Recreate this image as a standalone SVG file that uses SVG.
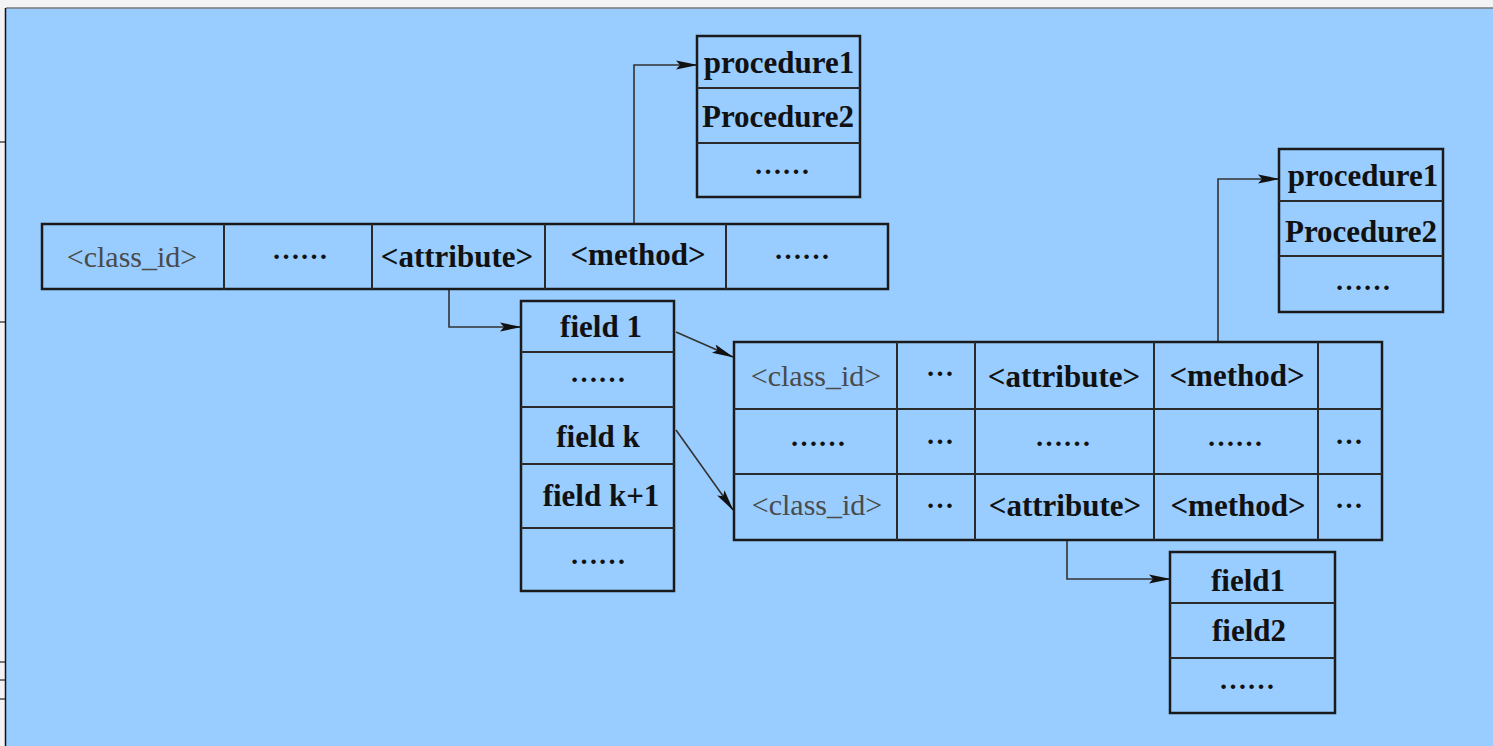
<svg xmlns="http://www.w3.org/2000/svg" width="1493" height="746" viewBox="0 0 1493 746">
<style>
.box{fill:none;stroke:#1a1a1a;stroke-width:2.5}
.div{fill:none;stroke:#2a2a2a;stroke-width:2}
.con{fill:none;stroke:#333;stroke-width:1.6}
.b{font-family:"Liberation Serif","Times New Roman",serif;font-weight:bold;font-size:31px;fill:#111;text-anchor:middle}
.g{font-family:"Liberation Serif","Times New Roman",serif;font-size:30px;fill:#4a4a4a;text-anchor:middle}
.d{font-family:"Liberation Serif","Times New Roman",serif;font-weight:bold;font-size:28px;fill:#111;text-anchor:middle}
</style>
<defs>
<marker id="ah" markerUnits="userSpaceOnUse" markerWidth="22" markerHeight="12" refX="21" refY="6" orient="auto">
<path d="M0,1.5 L22,6 L0,10.5 L4,6 z" fill="#111"/>
</marker>
</defs>
<rect x="0" y="0" width="1493" height="746" fill="#f3f3f5"/>
<rect x="6" y="8" width="1487" height="738" fill="#99ccff"/>
<line x1="6" y1="8" x2="1493" y2="8" stroke="#777" stroke-width="1.5"/>
<line x1="5.5" y1="8" x2="5.5" y2="746" stroke="#111" stroke-width="1.5"/>
<g stroke="#222" stroke-width="1.2">
<line x1="0" y1="142" x2="5" y2="142"/>
<line x1="0" y1="322" x2="5" y2="322"/>
<line x1="0" y1="662" x2="5" y2="662"/>
<line x1="0" y1="680" x2="5" y2="680"/>
<line x1="0" y1="699" x2="5" y2="699"/>
</g>

<g id="connectors">
<path class="con" d="M634,223 V65 H697" marker-end="url(#ah)"/>
<path class="con" d="M449,290 V327 H521" marker-end="url(#ah)"/>
<path class="con" d="M676,332 L733,357" marker-end="url(#ah)"/>
<path class="con" d="M676,430 L733,510" marker-end="url(#ah)"/>
<path class="con" d="M1218,342 V179 H1279" marker-end="url(#ah)"/>
<path class="con" d="M1067,540 V579 H1170" marker-end="url(#ah)"/>
</g>

<g id="top-table">
<rect class="box" x="42" y="224" width="846" height="65"/>
<line class="div" x1="224" y1="224" x2="224" y2="289"/>
<line class="div" x1="372" y1="224" x2="372" y2="289"/>
<line class="div" x1="545" y1="224" x2="545" y2="289"/>
<line class="div" x1="726" y1="224" x2="726" y2="289"/>
<text class="g" x="132" y="267">&lt;class_id&gt;</text>
<text class="d" x="300" y="259">……</text>
<text class="b" x="457" y="267">&lt;attribute&gt;</text>
<text class="b" x="638" y="265">&lt;method&gt;</text>
<text class="d" x="802" y="259">……</text>
</g>

<g id="procedures-1">
<rect class="box" x="697" y="36" width="163" height="161"/>
<line class="div" x1="697" y1="88" x2="860" y2="88"/>
<line class="div" x1="697" y1="143" x2="860" y2="143"/>
<text class="b" x="779" y="73">procedure1</text>
<text class="b" x="778" y="127">Procedure2</text>
<text class="d" x="782" y="174">……</text>
</g>

<g id="fields-column">
<rect class="box" x="521" y="301" width="153" height="290"/>
<line class="div" x1="521" y1="352" x2="674" y2="352"/>
<line class="div" x1="521" y1="407" x2="674" y2="407"/>
<line class="div" x1="521" y1="464" x2="674" y2="464"/>
<line class="div" x1="521" y1="528" x2="674" y2="528"/>
<text class="b" x="601" y="337">field 1</text>
<text class="d" x="598" y="382">……</text>
<text class="b" x="598" y="447">field k</text>
<text class="b" x="601" y="506">field k+1</text>
<text class="d" x="598" y="564">……</text>
</g>

<g id="class-table">
<rect class="box" x="734" y="342" width="648" height="198"/>
<line class="div" x1="734" y1="409" x2="1382" y2="409"/>
<line class="div" x1="734" y1="474" x2="1382" y2="474"/>
<line class="div" x1="897" y1="342" x2="897" y2="540"/>
<line class="div" x1="975" y1="342" x2="975" y2="540"/>
<line class="div" x1="1154" y1="342" x2="1154" y2="540"/>
<line class="div" x1="1318" y1="342" x2="1318" y2="540"/>
<text class="g" x="816" y="386">&lt;class_id&gt;</text>
<text class="d" x="940" y="376">…</text>
<text class="b" x="1064" y="387">&lt;attribute&gt;</text>
<text class="b" x="1237" y="386">&lt;method&gt;</text>
<text class="d" x="818" y="446">……</text>
<text class="d" x="940" y="444">…</text>
<text class="d" x="1063" y="446">……</text>
<text class="d" x="1235" y="446">……</text>
<text class="d" x="1349" y="444">…</text>
<text class="g" x="817" y="515">&lt;class_id&gt;</text>
<text class="d" x="940" y="508">…</text>
<text class="b" x="1065" y="516">&lt;attribute&gt;</text>
<text class="b" x="1238" y="516">&lt;method&gt;</text>
<text class="d" x="1349" y="508">…</text>
</g>

<g id="procedures-2">
<rect class="box" x="1279" y="149" width="164" height="163"/>
<line class="div" x1="1279" y1="201" x2="1443" y2="201"/>
<line class="div" x1="1279" y1="256" x2="1443" y2="256"/>
<text class="b" x="1363" y="186">procedure1</text>
<text class="b" x="1361" y="242">Procedure2</text>
<text class="d" x="1363" y="290">……</text>
</g>

<g id="fields-2">
<rect class="box" x="1170" y="552" width="165" height="161"/>
<line class="div" x1="1170" y1="603" x2="1335" y2="603"/>
<line class="div" x1="1170" y1="658" x2="1335" y2="658"/>
<text class="b" x="1248" y="591">field1</text>
<text class="b" x="1249" y="641">field2</text>
<text class="d" x="1247" y="689">……</text>
</g>
</svg>
